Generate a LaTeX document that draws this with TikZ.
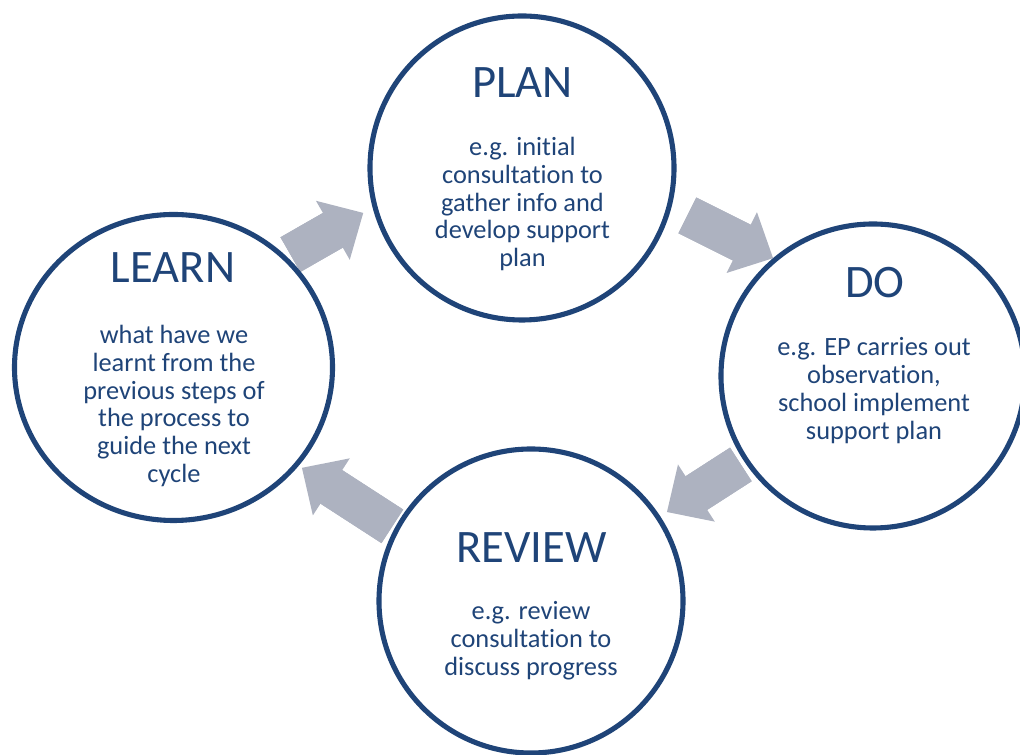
\documentclass[tikz,border=0pt]{standalone}
\usepackage{fontspec}
\setmainfont{Carlito}[Ligatures={NoCommon}]
\usepackage{tikz}
\usetikzlibrary{arrows.meta,calc,shapes.geometric,backgrounds}
\definecolor{Navy}{HTML}{1F4478}
\definecolor{Slate}{HTML}{ADB2C0}

\begin{document}
\begin{tikzpicture}[c/.style={circle,draw=Navy,line width=2.9pt,fill=white,minimum size=6.08cm,inner sep=0pt},
h/.style={text=Navy,font=\fontsize{26.5}{30}\selectfont},
t/.style={text=Navy,font=\fontsize{15}{15.9}\selectfont,align=center},
a/.style={draw=Slate,line width=0.8cm,-{Triangle[length=0.7cm,width=1.36cm,line width=0pt]},
  postaction={draw=Slate,line width=0.8cm,-,shorten >=0.5cm}}]
\useasboundingbox (0,0) rectangle (20.4,15.1);
% the four stages
\node[c] (plan) at (10.44,11.74) {};
\node[c,ellipse,minimum width=6.36cm,minimum height=6.12cm] (learn) at (3.47,7.75) {};
\node[c] (do) at (17.46,7.58) {};
\node[c] (review) at (10.62,3.08) {};
\node[h] (planh) at (10.45,13.44) {PLAN};
\node[t] (plant) at (10.45,11.02) {e.g. initial\\consultation to\\gather info and\\develop support\\plan};
\node[h] (learnh) at (3.46,9.74) {LEARN};
\node[t] (learnt) at (3.48,6.98) {what have we\\learnt from the\\previous steps of\\the process to\\guide the next\\cycle};
\node[h] (doh) at (17.5,9.45) {DO};
\node[t] (dot) at (17.48,7.29) {e.g. EP carries out\\observation,\\school implement\\support plan};
\node[h] (reviewh) at (10.63,4.15) {REVIEW};
\node[t] (reviewt) at (10.62,2.28) {e.g. review\\consultation to\\discuss progress};
% block arrows round the cycle
\begin{scope}[on background layer]
\draw[a] ($(learn)+(44:3.25)$)--($(plan)+(195.8:3.3)$);
\draw[a] ($(plan)+(-16:3.44)$)--($(do)+(130.3:3.09)$);
\draw[a] ($(do)+(213.8:3.18)$)--($(review)+(33.2:3.25)$);
\draw[a] ($(review)+(151.7:3.15)$)--($(learn)+(-38:3.26)$);
\end{scope}
\end{tikzpicture}
\end{document}
